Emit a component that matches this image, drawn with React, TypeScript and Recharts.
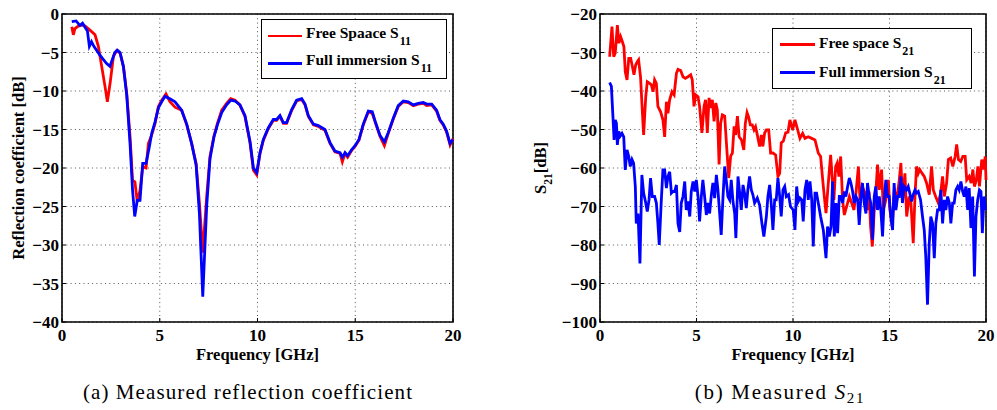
import React from 'react';
import { LineChart, Line, XAxis, YAxis, CartesianGrid, ReferenceArea, Legend } from 'recharts';

// (a) reflection coefficient, free space
const s11FreeFreq = [
  0.5, 0.58, 0.66, 0.92, 1.18, 1.43, 1.69, 1.86, 2.03, 2.2,
  2.32, 2.46, 2.63, 2.8, 2.97, 3.14, 3.31, 3.48, 3.61, 3.73,
  3.85, 3.99, 4.13, 4.3, 4.42, 4.59, 4.76, 4.93, 5.1, 5.32,
  5.52, 5.78, 6.12, 6.38, 6.63, 6.86, 7.03, 7.2, 7.4, 7.57,
  7.77, 7.95, 8.17, 8.42, 8.63, 8.85, 9.1, 9.36, 9.62, 9.79,
  9.96, 10.13, 10.3, 10.55, 10.81, 10.98, 11.15, 11.32, 11.49, 11.75,
  12.0, 12.26, 12.43, 12.6, 12.86, 13.11, 13.45, 13.71, 13.96, 14.22,
  14.34, 14.48, 14.61, 14.82, 14.99, 15.19, 15.41, 15.67, 15.87, 16.04,
  16.27, 16.49, 16.69, 16.95, 17.2, 17.46, 17.71, 17.97, 18.22, 18.48,
  18.65, 18.91, 19.16, 19.33, 19.5, 19.67, 19.85, 20,
];
const s11FreeDb = [
  -1.65, -2.7, -1.9, -1.4, -1.56, -2.1, -2.7, -4.2, -6.8, -9.4,
  -11.4, -9.0, -5.5, -4.76, -5.1, -6.8, -10.3, -15.9, -21.6, -21.8,
  -24.4, -22.9, -19.8, -20.0, -16.8, -15.7, -14.2, -12.0, -11.2, -10.4,
  -11.4, -12.1, -12.5, -14.4, -16.8, -19.4, -24.6, -31.0, -23.7, -18.5,
  -15.9, -14.2, -12.5, -11.6, -11.0, -11.2, -11.8, -13.3, -16.8, -20.3,
  -20.9, -18.1, -16.4, -14.9, -13.8, -13.8, -13.3, -14.2, -14.2, -12.5,
  -11.3, -11.1, -11.8, -13.3, -14.4, -14.6, -15.1, -16.8, -17.9, -18.1,
  -19.2, -18.1, -18.6, -17.7, -17.2, -16.4, -14.4, -12.7, -12.9, -14.2,
  -15.9, -17.1, -15.5, -13.6, -12.0, -11.4, -11.5, -11.9, -11.7, -11.6,
  -11.9, -11.8, -12.6, -13.8, -14.4, -15.3, -17.0, -16.2,
];

// (a) reflection coefficient, full immersion
const s11FullFreq = [
  0.5, 0.72, 0.92, 1.05, 1.3, 1.4, 1.51, 1.63, 1.93, 2.27,
  2.45, 2.7, 2.83, 2.97, 3.14, 3.31, 3.48, 3.61, 3.72, 3.85,
  3.99, 4.13, 4.3, 4.47, 4.59, 4.76, 4.93, 5.1, 5.27, 5.52,
  5.78, 6.12, 6.38, 6.63, 6.86, 7.03, 7.2, 7.4, 7.57, 7.77,
  7.95, 8.17, 8.42, 8.63, 8.85, 9.1, 9.36, 9.62, 9.79, 9.96,
  10.13, 10.3, 10.55, 10.81, 10.98, 11.15, 11.32, 11.49, 11.75, 12.0,
  12.26, 12.43, 12.6, 12.86, 13.11, 13.45, 13.71, 13.96, 14.22, 14.34,
  14.48, 14.61, 14.82, 14.99, 15.19, 15.41, 15.67, 15.87, 16.04, 16.27,
  16.49, 16.69, 16.95, 17.2, 17.46, 17.71, 17.97, 18.22, 18.48, 18.65,
  18.91, 19.16, 19.33, 19.5, 19.67, 19.85, 20,
];
const s11FullDb = [
  -1.0, -0.9, -1.5, -1.2, -2.2, -4.2, -3.6, -4.2, -5.3, -6.4,
  -6.8, -5.0, -4.7, -5.0, -6.8, -10.5, -16.8, -22.9, -26.3, -24.2,
  -24.2, -19.4, -19.4, -17.2, -15.5, -14.0, -12.2, -11.4, -10.7, -11.0,
  -11.4, -12.5, -14.3, -16.8, -19.6, -26.0, -36.7, -25.0, -18.8, -16.0,
  -14.4, -12.8, -11.8, -11.2, -11.3, -11.8, -13.2, -16.6, -20.0, -20.6,
  -18.0, -16.3, -14.8, -13.7, -13.7, -13.2, -14.1, -14.1, -12.4, -11.2,
  -11.0, -11.7, -13.2, -14.3, -14.5, -15.0, -16.7, -17.8, -18.0, -18.6,
  -18.0, -18.4, -17.6, -17.1, -16.3, -14.3, -12.6, -12.7, -14.1, -15.8,
  -16.6, -15.4, -13.5, -11.9, -11.3, -11.4, -11.8, -11.6, -11.5, -11.7,
  -11.7, -12.5, -13.7, -14.3, -15.2, -16.8, -16.3,
];

// (b) S21, free space
const s21FreeFreq = [
  0.5, 0.62, 0.71, 0.79, 0.9, 0.98, 1.07, 1.16, 1.24, 1.31,
  1.4, 1.49, 1.59, 1.68, 1.76, 1.85, 1.93, 2.0, 2.1, 2.19,
  2.26, 2.37, 2.45, 2.57, 2.66, 2.75, 2.83, 2.92, 3.0, 3.14,
  3.26, 3.35, 3.44, 3.52, 3.61, 3.73, 3.84, 3.96, 4.04, 4.18,
  4.3, 4.42, 4.56, 4.7, 4.78, 4.87, 4.96, 5.08, 5.16, 5.28,
  5.39, 5.47, 5.56, 5.65, 5.73, 5.82, 5.91, 6.0, 6.08, 6.17,
  6.25, 6.34, 6.46, 6.55, 6.67, 6.77, 6.86, 6.95, 7.03, 7.12,
  7.21, 7.33, 7.45, 7.53, 7.62, 7.7, 7.79, 7.89, 7.98, 8.06,
  8.15, 8.27, 8.36, 8.44, 8.53, 8.62, 8.74, 8.84, 8.96, 9.1,
  9.22, 9.31, 9.39, 9.5, 9.62, 9.74, 9.84, 9.98, 10.1, 10.22,
  10.36, 10.5, 10.62, 10.79, 10.97, 11.14, 11.31, 11.43, 11.57, 11.71,
  11.83, 11.95, 12.05, 12.12, 12.21, 12.29, 12.38, 12.47, 12.57, 12.66,
  12.78, 12.92, 13.04, 13.16, 13.27, 13.39, 13.47, 13.59, 13.73, 13.85,
  13.94, 14.02, 14.11, 14.21, 14.3, 14.38, 14.47, 14.59, 14.68, 14.81,
  14.94, 15.02, 15.14, 15.25, 15.37, 15.49, 15.59, 15.68, 15.8, 15.89,
  16.02, 16.11, 16.23, 16.32, 16.4, 16.49, 16.57, 16.69, 16.8, 16.92,
  17.06, 17.18, 17.27, 17.39, 17.53, 17.65, 17.75, 17.84, 17.96, 18.05,
  18.17, 18.28, 18.4, 18.48, 18.57, 18.69, 18.8, 18.92, 19.0, 19.13,
  19.23, 19.32, 19.4, 19.5, 19.58, 19.66, 19.78, 19.87, 19.96, 20.0,
];
const s21FreeDb = [
  -31.1, -23.3, -31.1, -30.2, -22.9, -27.6, -25.9, -27.2, -28.5, -35.0,
  -37.1, -31.5, -31.5, -33.7, -35.8, -33.2, -32.4, -31.9, -36.3, -44.9,
  -51.4, -41.5, -37.6, -38.0, -38.4, -40.2, -37.1, -38.0, -44.0, -45.4,
  -47.5, -51.9, -42.8, -45.8, -42.3, -40.2, -41.0, -35.4, -34.4, -34.7,
  -36.3, -36.7, -36.3, -35.8, -37.1, -44.0, -41.0, -41.5, -44.0, -50.9,
  -44.0, -42.3, -50.9, -41.8, -44.4, -42.3, -47.9, -43.1, -44.9, -59.1,
  -48.4, -46.2, -46.5, -53.5, -62.6, -56.9, -56.1, -49.2, -51.4, -46.5,
  -51.9, -52.7, -55.3, -48.4, -45.6, -46.7, -48.8, -48.8, -50.1, -49.3,
  -51.4, -54.4, -51.4, -54.4, -50.9, -50.1, -50.1, -56.1, -56.1, -56.6,
  -62.2, -61.4, -53.5, -53.0, -50.9, -50.7, -47.5, -50.1, -47.5, -49.7,
  -52.3, -51.0, -52.3, -51.9, -52.3, -52.7, -56.1, -57.0, -64.8, -71.7,
  -63.9, -56.6, -63.9, -68.3, -59.6, -58.7, -62.2, -57.0, -68.3, -72.2,
  -70.0, -67.4, -69.1, -70.9, -66.1, -59.6, -68.3, -64.8, -66.5, -70.9,
  -66.1, -75.2, -80.4, -70.9, -65.7, -59.1, -65.7, -60.4, -70.9, -68.3,
  -63.1, -70.9, -75.2, -65.7, -68.3, -63.9, -58.7, -68.3, -61.4, -72.6,
  -67.4, -69.1, -79.5, -67.4, -59.6, -61.4, -60.4, -61.4, -62.2, -63.9,
  -66.9, -59.6, -65.7, -67.4, -69.1, -66.5, -62.2, -67.4, -63.9, -57.8,
  -57.4, -59.6, -57.0, -53.9, -57.8, -58.3, -57.0, -57.0, -63.1, -62.2,
  -63.9, -60.4, -64.8, -63.1, -59.6, -64.8, -57.8, -60.4, -57.0, -63.1,
];

// (b) S21, full immersion
const s21FullFreq = [
  0.5, 0.59, 0.67, 0.73, 0.79, 0.85, 0.9, 0.97, 1.05, 1.14,
  1.23, 1.31, 1.4, 1.49, 1.57, 1.66, 1.74, 1.83, 1.88, 1.97,
  2.07, 2.17, 2.26, 2.37, 2.45, 2.54, 2.62, 2.71, 2.83, 2.92,
  3.0, 3.07, 3.17, 3.26, 3.35, 3.44, 3.52, 3.61, 3.7, 3.78,
  3.87, 3.96, 4.04, 4.13, 4.21, 4.3, 4.39, 4.47, 4.56, 4.65,
  4.73, 4.82, 4.91, 4.99, 5.08, 5.16, 5.25, 5.33, 5.42, 5.51,
  5.59, 5.68, 5.77, 5.85, 5.94, 6.03, 6.11, 6.2, 6.28, 6.37,
  6.46, 6.54, 6.63, 6.72, 6.8, 6.89, 6.98, 7.04, 7.15, 7.23,
  7.32, 7.41, 7.49, 7.58, 7.66, 7.75, 7.84, 7.92, 8.01, 8.15,
  8.27, 8.39, 8.49, 8.62, 8.7, 8.79, 8.87, 8.96, 9.05, 9.13,
  9.22, 9.31, 9.39, 9.48, 9.57, 9.65, 9.77, 9.87, 10.01, 10.1,
  10.19, 10.27, 10.36, 10.45, 10.53, 10.62, 10.71, 10.79, 10.88, 10.97,
  11.05, 11.14, 11.22, 11.31, 11.43, 11.57, 11.71, 11.79, 11.88, 11.97,
  12.05, 12.14, 12.23, 12.31, 12.4, 12.49, 12.57, 12.66, 12.74, 12.83,
  12.92, 13.0, 13.09, 13.17, 13.26, 13.35, 13.43, 13.52, 13.6, 13.69,
  13.78, 13.86, 13.95, 14.03, 14.12, 14.21, 14.29, 14.38, 14.47, 14.55,
  14.64, 14.72, 14.81, 14.9, 14.98, 15.07, 15.16, 15.24, 15.33, 15.42,
  15.5, 15.59, 15.67, 15.76, 15.88, 15.97, 16.05, 16.14, 16.23, 16.32,
  16.4, 16.49, 16.61, 16.71, 16.8, 16.88, 16.97, 17.06, 17.14, 17.23,
  17.32, 17.4, 17.49, 17.58, 17.66, 17.75, 17.84, 17.92, 18.01, 18.1,
  18.18, 18.27, 18.35, 18.44, 18.53, 18.61, 18.7, 18.79, 18.87, 18.96,
  19.05, 19.13, 19.22, 19.31, 19.4, 19.48, 19.57, 19.66, 19.74, 19.81,
  19.9, 19.98,
];
const s21FullDb = [
  -37.8, -38.8, -46.6, -52.7, -47.5, -48.4, -54.0, -50.5, -51.7, -51.0,
  -51.9, -60.5, -55.3, -57.0, -59.6, -57.8, -58.7, -64.8, -74.4, -71.8,
  -84.8, -61.8, -66.5, -69.1, -71.3, -68.3, -62.6, -67.4, -67.4, -69.1,
  -74.4, -80.0, -69.1, -60.5, -60.5, -65.2, -62.2, -61.0, -66.5, -66.1,
  -66.1, -64.4, -74.4, -76.6, -69.1, -67.4, -63.5, -70.9, -68.7, -72.6,
  -66.1, -63.5, -66.1, -63.1, -67.4, -73.9, -67.4, -63.1, -67.4, -72.2,
  -69.1, -71.8, -66.9, -63.9, -67.8, -61.8, -65.7, -71.8, -77.4, -67.8,
  -59.6, -63.1, -67.4, -68.3, -63.1, -68.7, -71.8, -78.2, -62.2, -66.1,
  -70.9, -64.4, -66.5, -70.4, -65.7, -62.2, -65.7, -66.9, -69.1, -67.8,
  -69.6, -74.4, -77.8, -72.6, -67.4, -64.4, -69.1, -76.1, -68.3, -68.3,
  -62.6, -67.4, -72.6, -65.7, -64.8, -67.4, -66.9, -70.0, -70.9, -76.1,
  -64.8, -68.7, -67.8, -68.3, -73.9, -65.7, -63.1, -68.3, -63.5, -68.3,
  -80.4, -66.5, -66.5, -69.1, -72.6, -76.1, -83.4, -75.2, -77.8, -75.2,
  -63.5, -77.8, -69.1, -76.9, -67.4, -67.4, -69.1, -66.1, -67.4, -64.8,
  -62.6, -63.9, -66.1, -69.1, -67.4, -68.3, -74.8, -67.4, -63.9, -69.1,
  -71.8, -63.9, -67.4, -69.1, -78.6, -67.4, -64.8, -70.9, -67.4, -70.9,
  -77.8, -68.7, -63.1, -67.4, -67.4, -72.6, -76.1, -63.9, -70.9, -67.4,
  -67.4, -62.2, -69.1, -64.8, -65.7, -64.8, -66.5, -68.7, -66.9, -65.7,
  -66.5, -66.1, -68.3, -72.6, -76.1, -83.0, -95.5, -79.5, -72.6, -74.4,
  -83.4, -74.4, -70.9, -70.9, -65.7, -74.4, -68.3, -70.9, -67.4, -69.1,
  -74.4, -69.1, -69.1, -65.7, -64.8, -65.7, -63.5, -66.1, -67.4, -64.8,
  -70.9, -65.2, -75.6, -67.4, -88.2, -72.6, -68.3, -65.7, -66.1, -76.9,
  -67.4, -70.9,
];

const freqTicks = [0, 5, 10, 15, 20];
const s11Ticks = [-40, -35, -30, -25, -20, -15, -10, -5, 0];
const s21Ticks = [-100, -90, -80, -70, -60, -50, -40, -30, -20];

const RED = '#ff0000';
const BLUE = '#0000ff';
const SERIF = '"Liberation Serif", "Times New Roman", serif';

const toPoints = (freq: number[], db: number[]) => freq.map((f, i) => ({ f, db: db[i] }));

const fmt = (v: number) => (v < 0 ? '\u2212' + Math.abs(v) : String(v));

const tickStyle = { fill: '#000', fontSize: 17, fontWeight: 700, fontFamily: SERIF };
const titleStyle = { fill: '#000', fontSize: 16.5, fontWeight: 700, fontFamily: SERIF };

type LegendItem = { text: string; sub: string; color: string };

const LegendBox = ({ items, width, height, rows, lineLeft, lineWidth, lineShift }: any) => (
  <div
    style={{
      position: 'relative',
      width,
      height,
      boxSizing: 'border-box',
      border: '1.5px solid #000',
      background: '#fff',
      fontFamily: SERIF,
      fontWeight: 700,
      fontSize: 15.5,
      color: '#000',
    }}
  >
    {items.map((it: LegendItem, i: number) => (
      <div key={it.text} style={{ position: 'absolute', left: lineLeft, top: rows[i] - 12, height: 24, display: 'flex', alignItems: 'center', whiteSpace: 'nowrap' }}>
        <span style={{ display: 'inline-block', width: lineWidth, height: 2.8, background: it.color, marginRight: 4, marginTop: lineShift * 2 }} />
        <span>
          {it.text}
          <span style={{ fontSize: 12, position: 'relative', top: 7, marginLeft: 1 }}>{it.sub}</span>
        </span>
      </div>
    ))}
  </div>
);

const XTitle = ({ viewBox }: any) => (
  <text x={viewBox.x + viewBox.width / 2} y={viewBox.y + 38} textAnchor="middle" style={titleStyle}>
    Frequency [GHz]
  </text>
);

const s11Legend: LegendItem[] = [
  { text: 'Free Spaace S', sub: '11', color: RED },
  { text: 'Full immersion S', sub: '11', color: BLUE },
];
const s21Legend: LegendItem[] = [
  { text: 'Free space S', sub: '21', color: RED },
  { text: 'Full immersion S', sub: '21', color: BLUE },
];

// bottom/left axes carry the labels, top/right only draw the inward ticks of the box
const frameAxes = (domain: number[], ticks: number[]) => [
  <XAxis key="xt" xAxisId="top" orientation="top" type="number" domain={[0, 20]} ticks={freqTicks} height={1} axisLine={false} tickSize={-4} tickLine={{ stroke: '#000' }} tick={false} />,
  <YAxis key="yr" yAxisId="right" orientation="right" type="number" domain={domain} ticks={ticks} width={1} axisLine={false} tickSize={-4} tickLine={{ stroke: '#000' }} tick={false} />,
];

function S11Chart() {
  const free = toPoints(s11FreeFreq, s11FreeDb);
  const full = toPoints(s11FullFreq, s11FullDb);
  return (
    <LineChart width={470} height={370} margin={{ top: 13, right: 16, left: 12, bottom: 8 }}>
      <CartesianGrid stroke="#555" strokeDasharray="1 3.3" />
      <XAxis
        type="number"
        dataKey="f"
        domain={[0, 20]}
        ticks={freqTicks}
        height={40}
        axisLine={false}
        tickLine={{ stroke: '#000' }}
        tickSize={-4}
        tickMargin={11}
        tick={tickStyle}
        label={XTitle}
      />
      <YAxis
        type="number"
        domain={[-40, 0]}
        ticks={s11Ticks}
        width={50}
        axisLine={false}
        tickLine={{ stroke: '#000' }}
        tickSize={-4}
        tickMargin={7}
        tick={tickStyle}
        tickFormatter={fmt}
        label={({ viewBox }: any) => {
          const cx = viewBox.x + 11.5;
          const cy = viewBox.y + viewBox.height / 2;
          return (
            <text x={cx} y={cy} transform={`rotate(-90 ${cx} ${cy})`} textAnchor="middle" style={titleStyle}>
              Reflection coefficient [dB]
            </text>
          );
        }}
      />
      {frameAxes([-40, 0], s11Ticks)}
      <ReferenceArea x1={0} x2={20} y1={-40} y2={0} fill="none" stroke="#000" strokeWidth={1.6} />
      <Line data={free} dataKey="db" type="linear" stroke={RED} strokeWidth={2.8} dot={false} isAnimationActive={false} />
      <Line data={full} dataKey="db" type="linear" stroke={BLUE} strokeWidth={2.8} dot={false} isAnimationActive={false} />
      <Legend
        layout="vertical"
        align="center"
        verticalAlign="middle"
        wrapperStyle={{ left: 261, top: 19, width: 186, height: 60 }}
        content={() => <LegendBox items={s11Legend} width={186} height={60} rows={[12.7, 40]} lineLeft={6} lineWidth={34} lineShift={3.3} />}
      />
    </LineChart>
  );
}

function S21Chart() {
  const free = toPoints(s21FreeFreq, s21FreeDb);
  const full = toPoints(s21FullFreq, s21FullDb);
  return (
    <LineChart width={477} height={370} margin={{ top: 13, right: 10, left: 20, bottom: 8 }}>
      <CartesianGrid stroke="#555" strokeDasharray="1 3.3" />
      <XAxis
        type="number"
        dataKey="f"
        domain={[0, 20]}
        ticks={freqTicks}
        height={40}
        axisLine={false}
        tickLine={{ stroke: '#000' }}
        tickSize={-4}
        tickMargin={11}
        tick={tickStyle}
        label={XTitle}
      />
      <YAxis
        type="number"
        domain={[-100, -20]}
        ticks={s21Ticks}
        width={60}
        axisLine={false}
        tickLine={{ stroke: '#000' }}
        tickSize={-4}
        tickMargin={7}
        tick={tickStyle}
        tickFormatter={fmt}
        label={({ viewBox }: any) => {
          const cx = viewBox.x + 6;
          const cy = viewBox.y + viewBox.height / 2;
          return (
            <text x={cx} y={cy} transform={`rotate(-90 ${cx} ${cy})`} textAnchor="middle" style={titleStyle}>
              S
              <tspan dy={6} fontSize={11.5}>21</tspan>
              <tspan dy={-6}>[dB]</tspan>
            </text>
          );
        }}
      />
      {frameAxes([-100, -20], s21Ticks)}
      <ReferenceArea x1={0} x2={20} y1={-100} y2={-20} fill="none" stroke="#000" strokeWidth={1.6} />
      <Line data={free} dataKey="db" type="linear" stroke={RED} strokeWidth={2.8} dot={false} isAnimationActive={false} />
      <Line data={full} dataKey="db" type="linear" stroke={BLUE} strokeWidth={2.8} dot={false} isAnimationActive={false} />
      <Legend
        layout="vertical"
        align="center"
        verticalAlign="middle"
        wrapperStyle={{ left: 252, top: 28, width: 200, height: 61 }}
        content={() => <LegendBox items={s21Legend} width={200} height={61} rows={[14.2, 42.5]} lineLeft={7} lineWidth={35} lineShift={1} />}
      />
    </LineChart>
  );
}

const captionStyle: React.CSSProperties = {
  position: 'absolute',
  top: 382,
  width: 400,
  textAlign: 'center',
  fontFamily: SERIF,
  fontSize: 21,
  lineHeight: 1,
  letterSpacing: 1.1,
  color: '#000',
};

export default function App() {
  return (
    <div style={{ position: 'absolute', left: 0, top: 0, width: 997, height: 410, background: '#fff', overflow: 'hidden' }}>
      <div style={{ position: 'absolute', left: 0, top: 0 }}>
        <S11Chart />
      </div>
      <div style={{ position: 'absolute', left: 520, top: 0 }}>
        <S21Chart />
      </div>
      <div style={{ ...captionStyle, left: 48 }}>(a) Measured reflection coefficient</div>
      <div style={{ ...captionStyle, left: 580, letterSpacing: 1.7 }}>
        (b) Measured <i>S</i>
        <span style={{ fontSize: 15, position: 'relative', top: 4 }}>21</span>
      </div>
    </div>
  );
}
